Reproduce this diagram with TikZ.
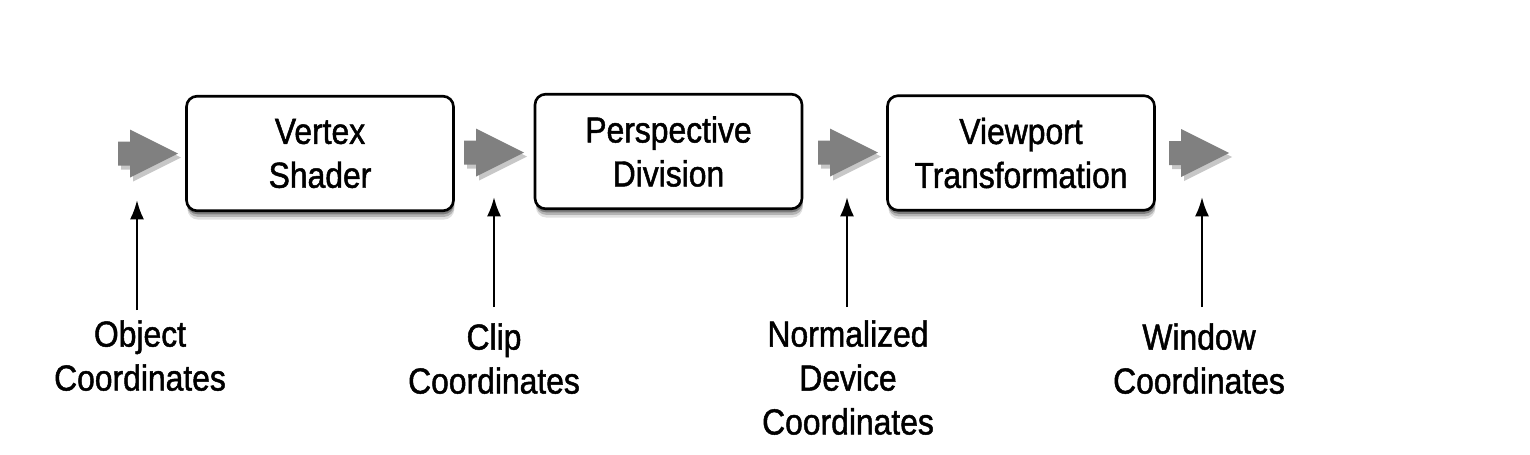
\documentclass[tikz,border=0pt]{standalone}
\usepackage{fontspec}
\setmainfont{Liberation Sans}[FakeStretch=0.88,FakeBold=1.3]
\usetikzlibrary{shadows,arrows.meta}
\begin{document}
\begin{tikzpicture}[x=0.02cm,y=-0.02cm,
  stage/.style={draw=black,line width=1.5pt,fill=white,rounded corners=6pt,
    minimum width=268*0.567pt,minimum height=115*0.567pt,align=center,
    font=\fontsize{20.6}{25}\selectfont,inner sep=0pt,
    general shadow={shadow xshift=0.5pt,shadow yshift=-5pt,opacity=0.12,fill=black},
    general shadow={shadow xshift=0.5pt,shadow yshift=-3.5pt,opacity=0.2,fill=black},
    general shadow={shadow xshift=0.3pt,shadow yshift=-2pt,opacity=0.3,fill=black}},
  flowbody/.style={fill=black!50},
  flowshade/.style={fill=black!22},
  lab/.style={align=center,font=\fontsize{20.6}{25}\selectfont,inner sep=0pt},
  up/.style={line width=1.4pt,-{Latex[length=11pt,width=8pt]}}]
\useasboundingbox (0,0) rectangle (1530,454);
\node[stage] (vs) at (320,153.5) {Vertex\\Shader};
\node[stage] (pd) at (668.5,151.5) {Perspective\\Division};
\node[stage] (vt) at (1021,153) {Viewport\\Transformation};
\coordinate (a1) at (148,153.5);
\coordinate (a2) at (494,152.5);
\coordinate (a3) at (848,152.5);
\coordinate (a4) at (1199,153);
\foreach \a in {a1,a2,a3,a4}{
  \begin{scope}[shift={(\a)}]
    \fill[flowshade] (-27,-8) -- (-15,-8) -- (-15,-20) -- (33,4) -- (-15,28) -- (-15,16) -- (-27,16) -- cycle;
    \fill[flowbody] (-30,-12) -- (-18,-12) -- (-18,-24) -- (30,0) -- (-18,24) -- (-18,12) -- (-30,12) -- cycle;
  \end{scope}
}
\node[lab,anchor=north] (l1) at (140,320) {Object\\Coordinates};
\node[lab,anchor=north] (l2) at (494,323) {Clip\\Coordinates};
\node[lab,anchor=north] (l3) at (848,320) {Normalized\\Device\\Coordinates};
\node[lab,anchor=north] (l4) at (1199,323) {Window\\Coordinates};
\coordinate (t1) at (137,200);
\coordinate (t2) at (494,197);
\coordinate (t3) at (847,197);
\coordinate (t4) at (1202,197);
\coordinate (b1) at (137,310);
\coordinate (b2) at (494,307);
\coordinate (b3) at (847,307);
\coordinate (b4) at (1202,307);
\draw[up] (b1) -- (t1);
\draw[up] (b2) -- (t2);
\draw[up] (b3) -- (t3);
\draw[up] (b4) -- (t4);
\end{tikzpicture}
\end{document}
